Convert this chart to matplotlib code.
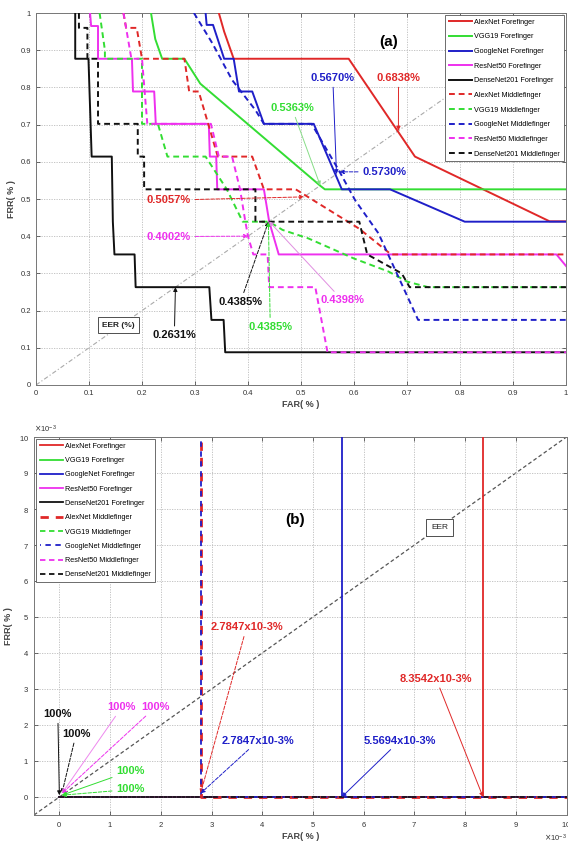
import matplotlib
matplotlib.use("Agg")
import matplotlib.pyplot as plt
import numpy as np

plt.rcParams['font.family'] = ['Liberation Sans', 'DejaVu Sans']

# ---------------- data ----------------
labels = ['AlexNet Forefinger', 'VGG19 Forefinger', 'GoogleNet Forefinger',
          'ResNet50 Forefinger', 'DenseNet201 Forefinger',
          'AlexNet Middlefinger', 'VGG19 Middlefinger', 'GoogleNet Middlefinger',
          'ResNet50 Middlefinger', 'DenseNet201 Middlefinger']

# panel (a) FAR / FRR curves
alex_fore_far = [0.345, 0.355, 0.373, 0.59, 0.715, 0.969, 1.0]
alex_fore_frr = [1.0, 0.95, 0.877, 0.877, 0.614, 0.44, 0.44]
vgg_fore_far = [0.217, 0.225, 0.238, 0.28, 0.31, 0.536, 0.545, 1.0]
vgg_fore_frr = [1.0, 0.93, 0.877, 0.877, 0.81, 0.536, 0.526, 0.526]
google_fore_far = [0.32, 0.322, 0.334, 0.355, 0.373, 0.383, 0.408, 0.43, 0.524, 0.577, 0.668, 0.809, 1.0]
google_fore_frr = [1.0, 0.968, 0.968, 0.877, 0.877, 0.789, 0.789, 0.702, 0.702, 0.526, 0.526, 0.439, 0.439]
resnet_fore_far = [0.102, 0.104, 0.117, 0.117, 0.181, 0.183, 0.223, 0.226, 0.326, 0.328, 0.34, 0.342,
                   0.43, 0.44, 0.458, 0.982, 1.0]
resnet_fore_frr = [1.0, 0.965, 0.965, 0.877, 0.877, 0.789, 0.789, 0.702, 0.702, 0.614, 0.614, 0.526,
                   0.526, 0.439, 0.351, 0.351, 0.32]
dense_fore_far = [0.074, 0.074, 0.099, 0.101, 0.103, 0.105, 0.143, 0.145, 0.148, 0.186, 0.188,
                  0.327, 0.331, 0.354, 0.357, 1.0]
dense_fore_frr = [1.0, 0.877, 0.877, 0.789, 0.702, 0.614, 0.614, 0.439, 0.351, 0.351, 0.263,
                  0.263, 0.175, 0.175, 0.088, 0.088]

alex_mid_far = [0.165, 0.17, 0.19, 0.2, 0.28, 0.289, 0.307, 0.343, 0.408, 0.43, 0.49, 0.61, 0.67, 1.0]
alex_mid_frr = [1.0, 0.96, 0.96, 0.877, 0.877, 0.789, 0.789, 0.614, 0.614, 0.526, 0.526, 0.42, 0.351, 0.351]
vgg_mid_far = [0.12, 0.13, 0.13, 0.2, 0.2, 0.23, 0.248, 0.32, 0.36, 0.39, 0.44, 0.465, 0.514,
               0.6, 0.665, 0.70, 0.74, 1.0]
vgg_mid_frr = [1.0, 0.9, 0.877, 0.877, 0.702, 0.702, 0.614, 0.614, 0.526, 0.439, 0.439, 0.417, 0.394,
               0.34, 0.305, 0.278, 0.263, 0.263]
google_mid_far = [0.298, 0.333, 0.37, 0.414, 0.43, 0.52, 0.571, 0.602, 0.646, 0.721, 1.0]
google_mid_frr = [1.0, 0.918, 0.82, 0.739, 0.702, 0.702, 0.578, 0.497, 0.408, 0.175, 0.175]
resnet_mid_far = [0.165, 0.17, 0.18, 0.2, 0.205, 0.21, 0.33, 0.345, 0.37, 0.385, 0.395, 0.40,
                  0.41, 0.437, 0.44, 0.527, 0.55, 1.0]
resnet_mid_frr = [1.0, 0.96, 0.877, 0.877, 0.789, 0.702, 0.702, 0.614, 0.614, 0.526, 0.439, 0.40,
                  0.351, 0.351, 0.263, 0.263, 0.088, 0.088]
dense_mid_far = [0.081, 0.081, 0.097, 0.097, 0.117, 0.117, 0.192, 0.192, 0.204, 0.204, 0.414, 0.414,
                 0.61, 0.625, 0.69, 0.705, 1.0]
dense_mid_frr = [1.0, 0.96, 0.96, 0.877, 0.877, 0.702, 0.702, 0.614, 0.614, 0.526, 0.526, 0.439,
                 0.439, 0.351, 0.30, 0.263, 0.263]

# EER values panel (a)
eer_a = {'alex_fore': 0.6838, 'google_fore': 0.5670, 'google_mid': 0.5730, 'vgg_fore': 0.5363,
         'alex_mid': 0.5057, 'resnet_mid': 0.4002, 'dense_mid': 0.4385, 'vgg_mid': 0.4385,
         'resnet_fore': 0.4398, 'dense_fore': 0.2631}

# panel (b) zoomed curves (real units)
b_alex_fore_far = [8.3542e-3, 8.3542e-3, 0.011]
b_alex_fore_frr = [1.0, 0.0, 0.0]
b_google_fore_far = [5.5694e-3, 5.5694e-3, 0.011]
b_google_fore_frr = [1.0, 0.0, 0.0]
b_alex_mid_far = [2.7847e-3, 2.7847e-3, 0.011]
b_alex_mid_frr = [1.0, 0.0, 0.0]
b_google_mid_far = [2.7847e-3, 2.7847e-3, 0.011]
b_google_mid_frr = [1.0, 0.0, 0.0]
b_zero_far = [0.0, 0.011]
b_zero_frr = [0.0, 0.0]

RED = '#e02828'
GREEN = '#33dd33'
BLUE = '#1f1fc8'
MAG = '#ee30ee'
BLK = '#111111'

fig = plt.figure(figsize=(5.68, 8.5), dpi=100)
ax1 = fig.add_axes([36 / 568, 1 - 385 / 850, (566 - 36) / 568, (385 - 13) / 850])
ax2 = fig.add_axes([34 / 568, 1 - 815 / 850, (566.5 - 34) / 568, (815 - 437) / 850])

DASH = (0, (3, 2))


def style_axes(ax):
    ax.grid(True, color='#bbbbbb', linestyle=(0, (1.5, 1.5)), linewidth=0.6)
    ax.tick_params(direction='in', length=3, width=0.5, labelsize=5.5, colors='#333333',
                   top=True, right=True)
    for s in ax.spines.values():
        s.set_color('#777777')
        s.set_linewidth(0.7)


# ---------------- panel (a) ----------------
ax1.plot([0, 1], [0, 1], color='#aaaaaa', lw=0.8, ls=(0, (4, 2, 1, 2)), zorder=1)
series_a = [
    (alex_fore_far, alex_fore_frr, RED, '-'),
    (vgg_fore_far, vgg_fore_frr, GREEN, '-'),
    (google_fore_far, google_fore_frr, BLUE, '-'),
    (resnet_fore_far, resnet_fore_frr, MAG, '-'),
    (dense_fore_far, dense_fore_frr, BLK, '-'),
    (alex_mid_far, alex_mid_frr, RED, DASH),
    (vgg_mid_far, vgg_mid_frr, GREEN, DASH),
    (google_mid_far, google_mid_frr, BLUE, DASH),
    (resnet_mid_far, resnet_mid_frr, MAG, DASH),
    (dense_mid_far, dense_mid_frr, BLK, DASH),
]
for (x, y, c, ls), lab in zip(series_a, labels):
    ax1.plot(x, y, color=c, ls=ls, lw=1.4, label=lab, zorder=3)

ax1.set_xlim(0, 1)
ax1.set_ylim(0, 1)
ticks = np.round(np.arange(0, 1.01, 0.1), 1)
ax1.set_xticks(ticks)
ax1.set_yticks(ticks)
tl = ['0' if t == 0 else ('1' if t == 1 else f'{t:g}') for t in ticks]
ax1.set_xticklabels(tl)
ax1.set_yticklabels(tl)
style_axes(ax1)
ax1.set_xlabel('FAR( % )', fontsize=6.5, color='#444444', labelpad=2, fontweight='bold')
ax1.set_ylabel('FRR( % )', fontsize=6.5, color='#444444', labelpad=3, fontweight='bold')

leg1 = ax1.legend(loc='upper right', fontsize=5.2, handlelength=3.2, labelspacing=1.05,
                  borderpad=0.5, handletextpad=0.3, fancybox=False, edgecolor='#555555',
                  framealpha=1, borderaxespad=0.3)
leg1.get_frame().set_linewidth(0.6)


def ann(ax, text, xy, xytext, color, ls='-', acolor=None, fs=8):
    ax.annotate(text, xy=xy, xytext=xytext, color=color, fontsize=fs, fontweight='bold',
                ha='center', va='center', zorder=6,
                arrowprops=dict(arrowstyle='-|>', color=acolor or color, lw=0.7, ls=ls,
                                mutation_scale=6, shrinkA=1, shrinkB=0))


ann(ax1, '0.6838%', (eer_a['alex_fore'], eer_a['alex_fore']), (0.684, 0.825), RED)
ann(ax1, '0.5670%', (eer_a['google_fore'], eer_a['google_fore']), (0.56, 0.825), BLUE)
ann(ax1, '0.5730%', (eer_a['google_mid'], eer_a['google_mid']), (0.657, 0.573), BLUE, ls='--')
ann(ax1, '0.5363%', (eer_a['vgg_fore'], eer_a['vgg_fore']), (0.483, 0.744), GREEN, acolor='#88dd88')
ann(ax1, '0.5057%', (eer_a['alex_mid'], eer_a['alex_mid']), (0.251, 0.497), RED, ls='--')
ann(ax1, '0.4002%', (eer_a['resnet_mid'], eer_a['resnet_mid']), (0.251, 0.399), MAG, ls='--')
ann(ax1, '0.4385%', (eer_a['dense_mid'], eer_a['dense_mid']), (0.386, 0.224), BLK, ls='--')
ann(ax1, '0.4385%', (eer_a['vgg_mid'], eer_a['vgg_mid']), (0.442, 0.157), GREEN, ls='--')
ann(ax1, '0.4398%', (eer_a['resnet_fore'], eer_a['resnet_fore']), (0.578, 0.228), MAG, acolor='#e08ee0')
ann(ax1, '0.2631%', (eer_a['dense_fore'], eer_a['dense_fore']), (0.261, 0.134), BLK)
ax1.text(0.156, 0.161, 'EER (%)', fontsize=6, ha='center', va='center', color='#222222',
         fontweight='bold', zorder=6,
         bbox=dict(boxstyle='square,pad=0.5', fc='white', ec='#333333', lw=0.6))
ax1.text(0.665, 0.923, '(a)', fontsize=11, fontweight='bold', ha='center', va='center', zorder=6)

# ---------------- panel (b) ----------------
ax2.plot([-0.5e-3, 10e-3], [-0.5e-3, 10e-3], color='#555555', lw=0.9, ls=(0, (3, 2)), zorder=1)
series_b = [
    (b_alex_fore_far, b_alex_fore_frr, RED, '-', 1.3),
    (b_zero_far, b_zero_frr, GREEN, '-', 1.3),
    (b_google_fore_far, b_google_fore_frr, BLUE, '-', 1.3),
    (b_zero_far, b_zero_frr, MAG, '-', 1.3),
    (b_zero_far, b_zero_frr, BLK, '-', 1.3),
    (b_alex_mid_far, b_alex_mid_frr, RED, (0, (3, 2.5)), 2.0),
    (b_zero_far, b_zero_frr, GREEN, DASH, 1.3),
    (b_google_mid_far, b_google_mid_frr, BLUE, (2.5, (3, 2.5)), 1.3),
    (b_zero_far, b_zero_frr, MAG, DASH, 1.3),
    (b_zero_far, b_zero_frr, BLK, DASH, 1.3),
]
for (x, y, c, ls, lw), lab in zip(series_b, labels):
    ax2.plot(x, y, color=c, ls=ls, lw=lw, label=lab, zorder=3)

ax2.set_xlim(-0.5e-3, 10e-3)
ax2.set_ylim(-0.5e-3, 10e-3)
bt = np.arange(0, 11) * 1e-3
ax2.set_xticks(bt)
ax2.set_yticks(bt)
ax2.ticklabel_format(style='sci', scilimits=(-3, -3), useMathText=True)
style_axes(ax2)
ax2.xaxis.get_offset_text().set_fontsize(5.5)
ax2.yaxis.get_offset_text().set_fontsize(5.5)
ax2.xaxis.get_offset_text().set_color('#333333')
ax2.yaxis.get_offset_text().set_color('#333333')
ax2.set_xlabel('FAR( % )', fontsize=6.5, color='#444444', labelpad=2, fontweight='bold')
ax2.set_ylabel('FRR( % )', fontsize=6.5, color='#444444', labelpad=4, fontweight='bold')

leg2 = ax2.legend(loc='upper left', fontsize=5.2, handlelength=3.2, labelspacing=1.0,
                  borderpad=0.5, handletextpad=0.3, fancybox=False, edgecolor='#555555',
                  framealpha=1, borderaxespad=0.3)
leg2.get_frame().set_linewidth(0.6)

k = 1e-3
ann(ax2, '8.3542x10-3%', (8.3542 * k, 0), (7.43 * k, 3.28 * k), RED)
ann(ax2, '5.5694x10-3%', (5.5694 * k, 0), (6.71 * k, 1.56 * k), BLUE)
ann(ax2, '2.7847x10-3%', (2.7847 * k, 0.1 * k), (3.69 * k, 4.71 * k), RED, ls='--')
ann(ax2, '2.7847x10-3%', (2.7847 * k, 0.1 * k), (3.92 * k, 1.56 * k), BLUE, ls='--')
ann(ax2, '100%', (0.0, 0.05 * k), (-0.03 * k, 2.3 * k), BLK)
ann(ax2, '100%', (0.05 * k, 0.1 * k), (0.33 * k, 1.75 * k), BLK, ls='--')
ann(ax2, '100%', (0.05 * k, 0.1 * k), (1.23 * k, 2.49 * k), MAG, acolor='#ee88ee')
ann(ax2, '100%', (0.05 * k, 0.1 * k), (1.89 * k, 2.49 * k), MAG, ls='--')
ann(ax2, '100%', (0.05 * k, 0.05 * k), (1.40 * k, 0.72 * k), GREEN)
ann(ax2, '100%', (0.05 * k, 0.05 * k), (1.40 * k, 0.21 * k), GREEN, ls='--')
ax2.text(4.65 * k, 7.69 * k, '(b)', fontsize=11, fontweight='bold', ha='center', va='center', zorder=6)
ax2.text(7.5 * k, 7.5 * k, 'EER', fontsize=6, ha='center', va='center', color='#222222', zorder=6,
         bbox=dict(boxstyle='square,pad=0.6', fc='white', ec='#333333', lw=0.6))

fig.savefig('out.png', dpi=100)
